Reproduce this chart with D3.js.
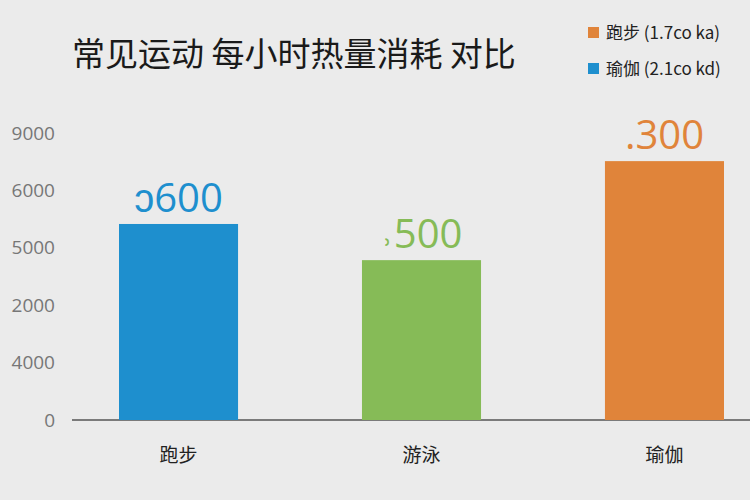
<!DOCTYPE html>
<html><head><meta charset="utf-8">
<script src="https://cdn.jsdelivr.net/npm/d3@7"></script>
<style>body{margin:0;background:#ebebeb}</style></head>
<body><svg id="c" width="750" height="500"></svg>
<script>
const categories = ["跑步", "游泳", "瑜伽"];
const values = [6830, 5570, 9020];
const valueLabels = ["ɔ600", "˒500", ".300"];
const colors = ["#1e8fce", "#86bb57", "#e0843a"];
const tickValues = [0, 2000, 4000, 6000, 8000, 10000];
const tickLabels = ["0", "4000", "2000", "5000", "6000", "9000"];
const legendLabels = ["跑步 (1.7co ka)", "瑜伽 (2.1co kd)"];
const legendColors = ["#e0843a", "#1e8fce"];

const svg = d3.select("#c");
svg.append("rect").attr("width",750).attr("height",500).attr("fill","#ebebeb");
const font = "'Noto Sans CJK SC', 'Noto Sans', sans-serif";
const x = d3.scaleBand().domain(categories).range([119, 724]).paddingInner(0.51).paddingOuter(0);
const y = d3.scaleLinear().domain([0, 10000]).range([420, 133]);

const yAxis = d3.axisLeft(y).tickValues(tickValues).tickSize(0).tickFormat((d,i)=>tickLabels[i]);
const ga = svg.append("g").attr("transform","translate(58,0)").call(yAxis);
ga.select(".domain").remove();
ga.selectAll("text").attr("font-family","'Open Sans', sans-serif").attr("font-size",19).attr("fill","#777");

svg.append("line").attr("x1",72).attr("x2",750).attr("y1",y(0)).attr("y2",y(0)).attr("stroke","#555").attr("stroke-width",1.5);

svg.selectAll("rect.bar").data(categories).enter().append("rect").attr("class","bar")
  .attr("x",d=>x(d)).attr("width",x.bandwidth())
  .attr("y",(d,i)=>y(values[i])).attr("height",(d,i)=>y(0)-y(values[i]))
  .attr("fill",(d,i)=>colors[i]);

svg.selectAll("text.vl").data(categories).enter().append("text").attr("class","vl")
  .attr("x",d=>x(d)+x.bandwidth()/2).attr("y",(d,i)=>y(values[i])-12)
  .attr("text-anchor","middle").attr("font-family","'Open Sans', sans-serif").attr("font-size",40)
  .attr("fill",(d,i)=>colors[i]).text((d,i)=>valueLabels[i]);

svg.selectAll("text.cat").data(categories).enter().append("text").attr("class","cat")
  .attr("x",d=>x(d)+x.bandwidth()/2).attr("y",462)
  .attr("text-anchor","middle").attr("font-family",font).attr("font-size",19).attr("fill","#222").text(d=>d);

svg.append("text").attr("x",72).attr("y",66).attr("font-family",font).attr("font-size",33).attr("font-weight",400)
  .attr("fill","#1a1a1a").text("常见运动 每小时热量消耗 对比");

legendLabels.forEach((l,i)=>{
  svg.append("rect").attr("x",588).attr("y",27+i*36).attr("width",11).attr("height",11).attr("fill",legendColors[i]);
  svg.append("text").attr("x",606).attr("y",39+i*36).attr("font-family",font).attr("font-size",17).attr("fill","#222").text(l);
});
</script></body></html>
